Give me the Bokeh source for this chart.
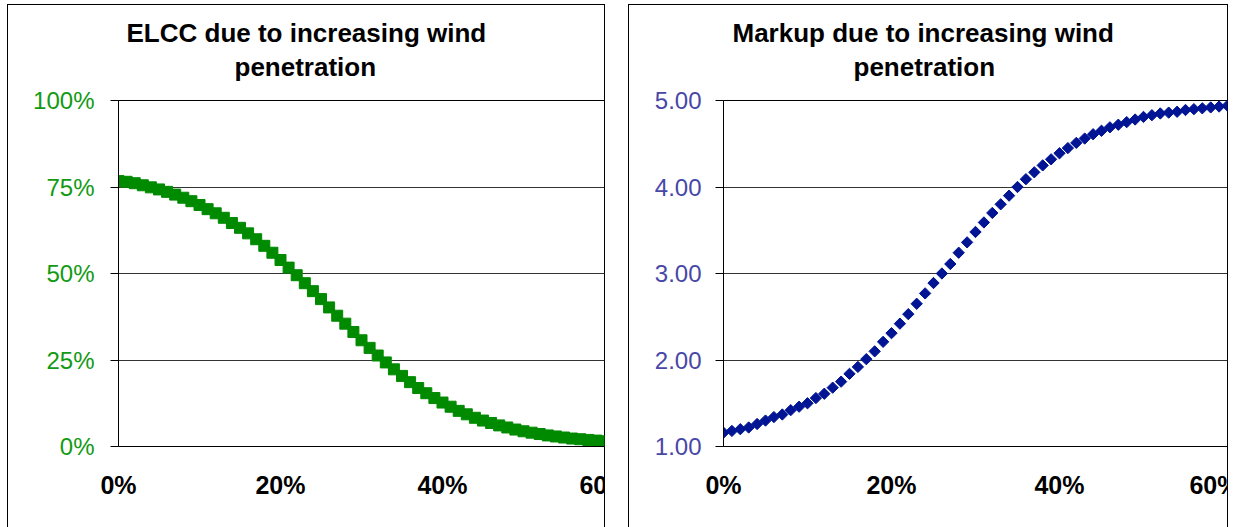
from bokeh.plotting import figure
from bokeh.layouts import row
from bokeh.models import Range1d, FixedTicker, NumeralTickFormatter, Title
from bokeh.embed import file_html
from bokeh.resources import INLINE
import math

# ---- data ----
penetration = [0.00, 0.01, 0.02, 0.03, 0.04, 0.05, 0.06, 0.07, 0.08, 0.09,
               0.10, 0.11, 0.12, 0.13, 0.14, 0.15, 0.16, 0.17, 0.18, 0.19,
               0.20, 0.21, 0.22, 0.23, 0.24, 0.25, 0.26, 0.27, 0.28, 0.29,
               0.30, 0.31, 0.32, 0.33, 0.34, 0.35, 0.36, 0.37, 0.38, 0.39,
               0.40, 0.41, 0.42, 0.43, 0.44, 0.45, 0.46, 0.47, 0.48, 0.49,
               0.50, 0.51, 0.52, 0.53, 0.54, 0.55, 0.56, 0.57, 0.58, 0.59,
               0.60]

elcc = [0.767, 0.765, 0.761, 0.755, 0.749, 0.743, 0.736, 0.728, 0.719, 0.709,
        0.698, 0.686, 0.674, 0.661, 0.646, 0.632, 0.616, 0.599, 0.580, 0.560,
        0.539, 0.517, 0.495, 0.472, 0.449, 0.426, 0.402, 0.378, 0.355, 0.331,
        0.307, 0.285, 0.263, 0.243, 0.223, 0.204, 0.186, 0.169, 0.154, 0.140,
        0.127, 0.115, 0.103, 0.093, 0.083, 0.075, 0.068, 0.061, 0.055, 0.049,
        0.044, 0.040, 0.036, 0.032, 0.029, 0.026, 0.023, 0.021, 0.019, 0.017,
        0.015]

markup = [1.16, 1.18, 1.20, 1.22, 1.26, 1.30, 1.34, 1.37, 1.42, 1.46,
          1.50, 1.56, 1.61, 1.68, 1.75, 1.84, 1.92, 2.01, 2.10, 2.21,
          2.31, 2.42, 2.53, 2.65, 2.77, 2.89, 3.00, 3.11, 3.24, 3.36,
          3.48, 3.59, 3.70, 3.80, 3.90, 4.00, 4.09, 4.17, 4.25, 4.32,
          4.39, 4.45, 4.51, 4.56, 4.61, 4.65, 4.69, 4.72, 4.75, 4.78,
          4.81, 4.83, 4.85, 4.86, 4.87, 4.89, 4.90, 4.91, 4.92, 4.93,
          4.94]

x_ticks = [0.0, 0.2, 0.4, 0.6]
elcc_ticks = [0.0, 0.25, 0.5, 0.75, 1.0]
markup_ticks = [1.0, 2.0, 3.0, 4.0, 5.0]

title_left = ["ELCC due to increasing wind", "penetration"]
title_right = ["Markup due to increasing wind", "penetration"]

FONT = "Liberation Sans"


def make_fig(width, border_left, border_right, clip_right, y_range, y_ticks,
             y_fmt, y_color, standoff):
    edge = width - clip_right - 1   # x of the panel's right border inside the element
    p = figure(width=width, height=522, output_backend="svg", toolbar_location=None,
               x_range=Range1d(0, 0.6), y_range=y_range,
               min_border_left=border_left, min_border_right=border_right,
               min_border_top=95, min_border_bottom=81,
               background_fill_color="white", border_fill_color=None,
               styles={"outline": "1px solid black",
                       "clip-path": "inset(-3px %dpx -3px -3px)" % clip_right,
                       "background": "linear-gradient(#000, #000) %dpx 0 / 1px 100%% no-repeat" % edge})
    p.outline_line_color = "black"
    p.outline_line_width = 1
    p.xgrid.visible = False
    p.ygrid.ticker = FixedTicker(ticks=y_ticks)
    p.ygrid.grid_line_color = "#333333"
    p.ygrid.grid_line_width = 1

    p.xaxis.ticker = FixedTicker(ticks=x_ticks)
    p.xaxis.formatter = NumeralTickFormatter(format="0%")
    p.xaxis.major_tick_out = 0
    p.xaxis.major_tick_in = 0
    p.xaxis.minor_tick_out = 0
    p.xaxis.minor_tick_in = 0
    p.xaxis.major_label_standoff = 24
    p.xaxis.major_label_text_font = FONT
    p.xaxis.major_label_text_font_size = "25px"
    p.xaxis.major_label_text_font_style = "bold"
    p.xaxis.major_label_text_color = "black"
    p.xaxis.axis_line_color = "black"

    p.yaxis.ticker = FixedTicker(ticks=y_ticks)
    p.yaxis.formatter = NumeralTickFormatter(format=y_fmt)
    p.yaxis.major_tick_out = 8
    p.yaxis.major_tick_in = 0
    p.yaxis.minor_tick_out = 0
    p.yaxis.minor_tick_in = 0
    p.yaxis.major_tick_line_color = "black"
    p.yaxis.major_label_standoff = standoff
    p.yaxis.major_label_text_font = FONT
    p.yaxis.major_label_text_font_size = "24px"
    p.yaxis.major_label_text_color = y_color
    p.yaxis.axis_line_color = "black"
    return p


def add_title(p, lines, offsets):
    # first added sits closest to the plot area
    standoffs = [-34, 38]
    items = list(zip(lines, offsets, standoffs))
    for line, off, so in reversed(items):
        p.add_layout(Title(text=line, align="left", offset=off, standoff=so,
                           text_font=FONT, text_font_size="26px",
                           text_font_style="bold", text_color="black"), "above")


# left panel: plot area 118..604, "60%" cut at the panel edge
p1 = make_fig(621, 110, 25, 24, Range1d(0, 1), elcc_ticks, "0%", "#129a12", 16)
p1.scatter(penetration, elcc, marker="square", size=11,
           fill_color="#008a00", line_color="#008a00")
add_title(p1, title_left, [8, 116])

# right panel: plot area 723..1227
p2 = make_fig(610, 94, 12, 11, Range1d(1, 5), markup_ticks, "0.00", "#4747a8", 14)
p2.scatter(penetration, markup, marker="square", size=8, angle=math.pi / 4,
           fill_color="#001494", line_color="#001494")
add_title(p2, title_right, [9, 130])

layout = row(p1, p2, spacing=0, margin=(5, 0, 0, 8))

open("out.html", "w").write(file_html(layout, INLINE))
